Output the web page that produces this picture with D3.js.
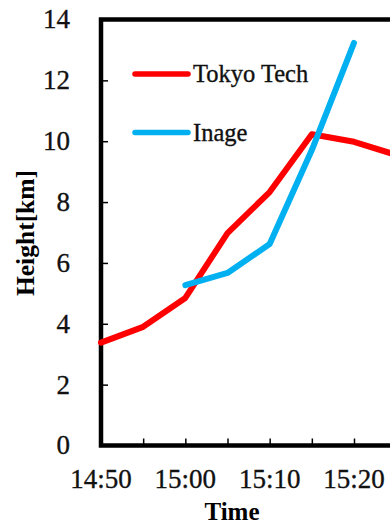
<!DOCTYPE html>
<html>
<head>
<meta charset="utf-8">
<script src="https://cdn.jsdelivr.net/npm/d3@7"></script>
<style>
  html, body { margin: 0; padding: 0; background: #fff; }
</style>
</head>
<body>
<svg id="chart" width="390" height="524"></svg>
<script>
// Observation times, minutes after 14:50
const times = [0, 5, 10, 15, 20, 25, 30, 35];
const timeLabels = ["14:50", "14:55", "15:00", "15:05", "15:10", "15:15", "15:20", "15:25"];

// Echo-top height [km]
const tokyoTechTimes = [0, 5, 10, 15, 20, 25, 30, 35];
const tokyoTech = [3.38, 3.9, 4.85, 6.98, 8.33, 10.23, 9.98, 9.55];

const inageTimes = [10, 15, 20, 25, 30];
const inage = [5.27, 5.67, 6.62, 9.71, 13.23];

const yTicks = [0, 2, 4, 6, 8, 10, 12, 14];
const xLabelTimes = [0, 10, 20, 30];

const series = [
  { name: "Tokyo Tech", color: "#FF0000", t: tokyoTechTimes, v: tokyoTech },
  { name: "Inage", color: "#00B0F0", t: inageTimes, v: inage }
];

const FONT = '"Liberation Serif"';

const svg = d3.select("#chart");
const x0 = 101, y0 = 445.5, yTop = 19.5;

const x = d3.scaleLinear().domain([0, 30]).range([x0, 354]);
const y = d3.scaleLinear().domain([0, 14]).range([y0, yTop]);
const xRight = x(45);

// Small inward ticks
const yAxis = d3.axisRight(y).tickValues(yTicks.slice(1, -1)).tickSize(7).tickFormat("");
svg.append("g").attr("transform", `translate(${x0},0)`).call(yAxis)
  .call(g => g.select(".domain").remove())
  .call(g => g.selectAll("line").attr("stroke", "#000").attr("stroke-width", 1.5));

const xAxis = d3.axisTop(x).tickValues(times.slice(1)).tickSize(7).tickFormat("");
svg.append("g").attr("transform", `translate(0,${y0})`).call(xAxis)
  .call(g => g.select(".domain").remove())
  .call(g => g.selectAll("line").attr("stroke", "#000").attr("stroke-width", 1.5));

// Frame: left, top and bottom
svg.append("path")
  .attr("d", `M${xRight},${yTop}H${x0}V${y0}H${xRight}`)
  .attr("fill", "none").attr("stroke", "#000").attr("stroke-width", 4.5)
  .attr("stroke-linejoin", "miter");

// Regular-weight text, slightly thickened
const textStyle = sel => sel
  .style("font-family", FONT).attr("fill", "#111")
  .attr("stroke", "#111").attr("stroke-width", 0.35);

// Y tick labels
svg.append("g").selectAll("text").data(yTicks).join("text")
  .attr("x", 70).attr("y", d => y(d)).attr("dy", "0.33em")
  .attr("text-anchor", "end").attr("font-size", 27)
  .call(textStyle)
  .text(d => d);

// X tick labels
svg.append("g").selectAll("text").data(xLabelTimes).join("text")
  .attr("x", d => x(d)).attr("y", 488)
  .attr("text-anchor", "middle").attr("font-size", 27)
  .call(textStyle)
  .text(d => timeLabels[times.indexOf(d)]);

// Axis titles
svg.append("text").attr("x", 232).attr("y", 520)
  .attr("text-anchor", "middle").attr("font-size", 25).attr("font-weight", "bold")
  .style("font-family", FONT)
  .text("Time");
svg.append("text").attr("transform", "translate(34,233) rotate(-90)")
  .attr("text-anchor", "middle").attr("font-size", 25.5).attr("font-weight", "bold")
  .style("font-family", FONT)
  .text("Height[km]");

// Series lines
const line = d3.line().x(d => x(d[0])).y(d => y(d[1]));
series.forEach(s => {
  svg.append("path")
    .datum(s.t.map((t, i) => [t, s.v[i]]))
    .attr("d", line)
    .attr("fill", "none").attr("stroke", s.color).attr("stroke-width", 6)
    .attr("stroke-linejoin", "round").attr("stroke-linecap", "round");
});

// Legend
const legend = svg.append("g");
series.forEach((s, i) => {
  const ly = 74 + i * 58.5;
  legend.append("line").attr("x1", 135).attr("x2", 188).attr("y1", ly).attr("y2", ly)
    .attr("stroke", s.color).attr("stroke-width", 5.5).attr("stroke-linecap", "round");
  legend.append("text").attr("x", 193).attr("y", ly + 8)
    .attr("font-size", 24.5).call(textStyle).text(s.name);
});
</script>
</body>
</html>
